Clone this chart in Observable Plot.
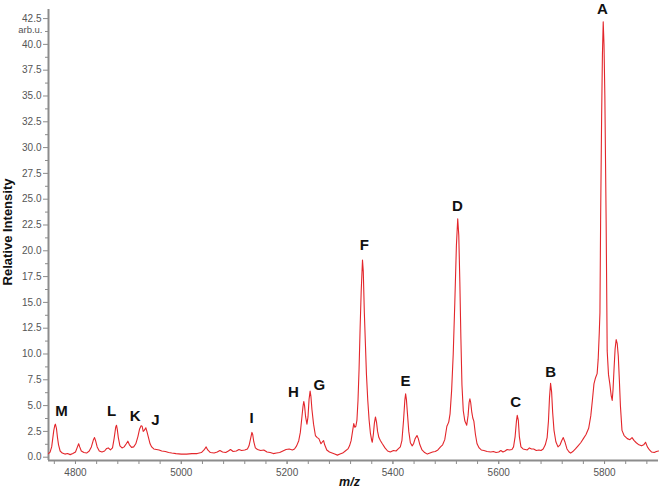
<!DOCTYPE html>
<html><head><meta charset="utf-8">
<script src="https://cdn.jsdelivr.net/npm/d3@7"></script>
<script src="https://cdn.jsdelivr.net/npm/@observablehq/plot@0.6"></script>
<style>body{margin:0;background:#fff;} #chart svg{display:block;}</style>
</head><body><div id="chart"></div>
<script>
const mz = [4749,4752,4755,4757,4759,4761,4762,4764,4766,4768,4771,4775,4780,4785,4790,4795,4800,4803,4806,4808,4811,4816,4821,4826,4830,4834,4836,4838,4841,4845,4850,4855,4859,4862,4866,4870,4873,4876,4877.5,4879,4881,4884,4888,4892,4896,4899,4902,4906,4910,4914,4918,4921,4924,4926,4928,4930,4933,4935,4938,4941,4944,4948,4953,4958,4963,4970,4976,4982,4990,5000,5010,5020,5030,5038,5043,5047,5050,5055,5062,5068,5073,5078,5084,5089,5093,5098,5104,5109,5114,5120,5125,5128,5131,5133.5,5135,5137,5140,5144,5150,5156,5162,5168,5174,5180,5186,5192,5198,5204,5210,5214,5218,5222,5225,5228,5230,5231.5,5233,5235,5237.5,5239.5,5241.5,5243.5,5245,5247,5250,5253.5,5257,5260,5264,5267,5269,5271,5275,5280,5285,5290,5295,5300,5305,5310,5315,5318,5321,5324,5326,5328,5330,5332,5334,5336,5338,5340,5342.5,5344,5346,5348,5350,5352.5,5355,5357.5,5360,5361,5363,5365,5367,5369,5371,5373.5,5376.5,5380,5385,5390,5395,5401,5406,5410,5414,5417,5420,5422.5,5424,5425.5,5427.5,5430,5433,5436.5,5439,5442,5445.5,5448,5451,5455,5460,5465,5470,5475,5480,5485,5490,5494,5498,5502,5505.5,5508,5511,5514,5517,5520,5522.5,5524.5,5526.5,5528.5,5530.5,5533,5536,5539.5,5542,5544,5545.5,5547,5549,5551,5553,5556,5559,5563,5567,5572,5578,5585,5590,5595,5600,5604,5608,5612,5616,5620,5625,5628,5631,5633.5,5635,5637,5639,5642,5646,5650,5654,5658,5662,5666,5671,5676,5680,5684,5688,5691.5,5694,5696,5698,5700,5702,5704.5,5708,5712,5716,5719,5722,5725,5729,5733,5736,5740,5745,5750,5755,5760,5765,5770,5774,5777,5780,5783,5786,5788,5790,5791.3,5792.6,5794.5,5796,5797.5,5799,5800.6,5803,5805,5807.5,5810,5812.5,5814.5,5816,5818,5820,5822,5824,5826,5828,5830,5833,5837,5843,5848,5852,5856,5860,5865,5870,5874,5877.5,5881,5885,5889,5894,5898,5902];
const intensity = [0.35,0.5,1.0,1.8,2.6,3.1,3.2,2.8,1.9,1.2,0.6,0.4,0.3,0.35,0.25,0.35,0.5,0.9,1.3,1.0,0.6,0.45,0.4,0.6,1.0,1.7,1.9,1.6,1.0,0.6,0.5,0.6,0.85,0.9,0.7,0.9,1.8,2.9,3.1,2.7,1.9,1.1,0.9,1.0,1.3,1.55,1.2,0.95,1.0,1.3,2.0,2.7,3.05,3.0,2.5,2.6,2.85,2.5,1.9,1.3,1.0,0.8,0.75,0.7,0.6,0.55,0.45,0.4,0.35,0.3,0.3,0.35,0.35,0.45,0.7,1.0,0.7,0.45,0.4,0.5,0.65,0.5,0.45,0.6,0.75,0.55,0.6,0.75,0.65,0.7,0.8,1.1,1.8,2.4,2.2,1.5,0.9,0.75,0.65,0.7,0.5,0.45,0.35,0.4,0.45,0.6,0.75,0.8,0.7,0.8,1.1,1.6,2.4,3.9,4.9,5.4,5.0,3.9,3.2,3.9,5.6,6.4,5.9,4.6,3.2,2.1,1.9,1.8,1.3,1.5,1.6,1.2,0.7,0.5,0.4,0.3,0.2,0.3,0.4,0.6,0.8,1.1,1.6,2.6,3.25,2.9,3.0,3.6,5.5,8.5,12.5,16,19.1,18,14,11,8,5.5,3.6,2.3,1.6,1.45,2.2,3.3,3.9,3.4,2.5,1.9,1.6,1.3,0.9,0.6,0.5,0.65,0.6,0.8,1.0,1.6,3.5,5.5,6.15,5.6,4.2,2.5,1.4,1.1,1.3,1.8,2.1,1.8,1.2,0.7,0.45,0.3,0.4,0.5,0.55,0.7,1.0,1.2,1.7,3.0,3.4,4.2,6.5,10,15,20.5,23.1,21.5,17,11.5,7,4.5,3.5,3.1,4.0,5.3,5.65,5.3,4.4,3.8,3.5,2.2,1.3,0.9,0.7,0.65,0.55,0.5,0.55,0.45,0.5,0.65,0.5,0.6,0.75,0.7,0.75,1.0,2.0,3.5,4.05,3.6,2.0,1.0,0.8,0.75,0.7,0.9,0.8,0.8,0.65,0.7,0.65,0.8,1.2,1.9,3.5,5.8,7.15,6.3,4.3,2.6,1.5,1.0,1.2,1.6,1.9,1.5,0.8,0.5,0.4,0.55,0.8,1.1,1.4,1.8,2.2,2.8,4.0,5.5,7.1,7.7,8.1,9.5,12,14,23,33,39,42.2,40,35,23,10.3,8.0,7.1,6.0,5.5,6.5,8.6,10.5,11.4,11.0,9.8,7.5,5.0,2.6,2.1,1.8,1.7,1.9,1.6,1.4,1.2,1.1,1.2,1.45,1.0,0.7,0.5,0.45,0.55,0.6];

const peakLabels = ["A","B","C","D","E","F","G","H","I","J","K","L","M"];
const labelMz = [5796,5698,5632,5522,5424,5346,5261,5212,5133,4951,4913,4868,4773.5];
const labelIntensity = [43.45,8.2,5.3,24.3,7.4,20.5,7.0,6.3,3.75,3.55,4.0,4.5,4.5];

const xLabelTicks = [4800,5000,5200,5400,5600,5800];
const xMinorTicks = [4760,4800,4840,4880,4920,4960,5000,5040,5080,5120,5160,5200,5240,5280,5320,5360,5400,5440,5480,5520,5560,5600,5640,5680,5720,5760,5800,5840,5880];
const yTicks = [0,2.5,5,7.5,10,12.5,15,17.5,20,22.5,25,27.5,30,32.5,35,37.5,40,42.5];
const yMinorTicks = [1.25,3.75,6.25,8.75,11.25,13.75,16.25,18.75,21.25,23.75,26.25,28.75,31.25,33.75,36.25,38.75,41.25];

const xDomain = [4749, 5902];
const yDomain = [-0.32, 43.38];

const spectrum = mz.map((m, i) => ({mz: m, intensity: intensity[i]}));
const labels = peakLabels.map((t, i) => ({t, mz: labelMz[i], v: labelIntensity[i]}));

const axisGray = "#8c8c8c";
const textGray = "#555";

const chart = Plot.plot({
  width: 660, height: 488,
  marginLeft: 48, marginRight: 2, marginTop: 9, marginBottom: 28,
  x: {domain: xDomain},
  y: {domain: yDomain},
  style: {fontFamily: "'Liberation Sans', Arial, sans-serif", fontSize: "10px", background: "#fff", overflow: "visible"},
  marks: [
    Plot.axisY({ticks: yMinorTicks, tickSize: 3, text: null, stroke: axisGray, label: null}),
    Plot.axisY({ticks: yTicks, tickSize: 5, tickPadding: 2, tickFormat: d3.format(".1f"), stroke: axisGray, fill: textGray, label: null}),
    Plot.axisX({ticks: xMinorTicks, tickSize: 4, text: null, stroke: axisGray, label: null}),
    Plot.axisX({ticks: xLabelTicks, tickSize: 4, tickPadding: 4, tickFormat: d3.format("d"), stroke: axisGray, fill: textGray, label: null}),
    Plot.ruleX([xDomain[0]], {stroke: axisGray, strokeWidth: 2}),
    Plot.ruleY([yDomain[0]], {stroke: axisGray, strokeWidth: 2}),
    Plot.line(spectrum, {x: "mz", y: "intensity", stroke: "#e3262b", strokeWidth: 1.1}),
    Plot.text(labels, {x: "mz", y: "v", text: "t", fontSize: 15, fontWeight: "bold", fill: "#111", lineAnchor: "middle"}),
    Plot.text(["arb.u."], {frameAnchor: "top-left", dx: -6, dy: 20, textAnchor: "end", lineAnchor: "middle", fill: textGray, fontSize: 9.5}),
    Plot.text(["Relative Intensity"], {frameAnchor: "left", textAnchor: "middle", dx: -41, dy: -3, rotate: -90, fontWeight: "bold", fontSize: 13, fill: "#111", lineAnchor: "middle"}),
    Plot.text(["m/z"], {frameAnchor: "bottom", dx: -4, dy: 21, fontWeight: "bold", fontStyle: "italic", fontSize: 12.5, fill: "#111", lineAnchor: "middle"})
  ]
});
document.getElementById("chart").appendChild(chart);
</script>
</body></html>
